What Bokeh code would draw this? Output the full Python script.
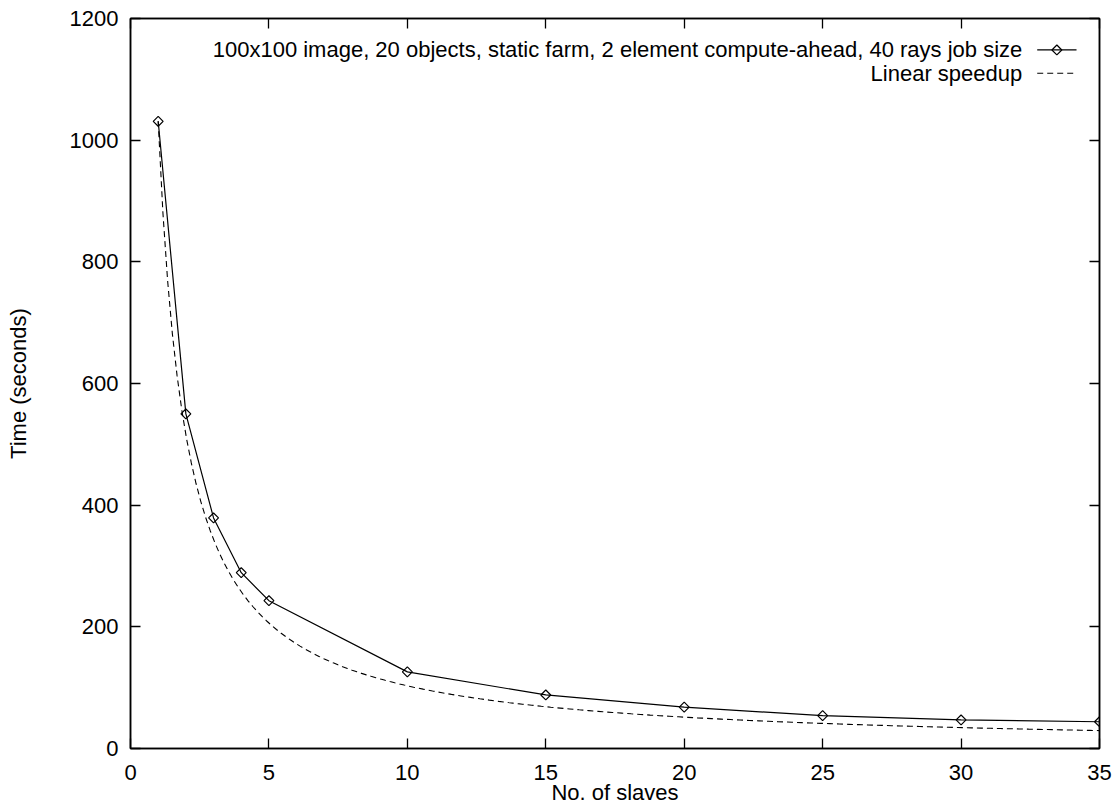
import numpy as np
from bokeh.plotting import figure
from bokeh.models import Range1d, FixedTicker, LinearAxis, Label
from bokeh.embed import file_html
from bokeh.resources import INLINE

# ---- data ----
slaves = [1, 2, 3, 4, 5, 10, 15, 20, 25, 30, 35]
times = [1031, 550, 379, 289, 243, 126, 88, 68, 54, 47, 44]
x_ticks = [0, 5, 10, 15, 20, 25, 30, 35]
y_ticks = [0, 200, 400, 600, 800, 1000, 1200]
series_label = "100x100 image, 20 objects, static farm, 2 element compute-ahead, 40 rays job size"
linear_label = "Linear speedup"
x_title = "No. of slaves"
y_title = "Time (seconds)"

# linear speedup curve derived from single-slave time (T1 / n)
lin_x = np.linspace(1, 35, 200)
lin_y = times[0] / lin_x

FONT = "Liberation Sans"
FS = "22px"

p = figure(width=1116, height=803, frame_width=969, frame_height=730,
           min_border_left=130, min_border_top=18, min_border_right=17,
           min_border_bottom=55,
           x_range=Range1d(0, 35), y_range=Range1d(0, 1200),
           output_backend="svg", toolbar_location=None)
p.background_fill_color = "white"
p.border_fill_color = "white"
p.outline_line_color = "black"
p.outline_line_width = 1.5
p.xgrid.visible = False
p.ygrid.visible = False

def style_axis(ax, ticks, show_labels, standoff):
    ax.ticker = FixedTicker(ticks=ticks)
    ax.axis_line_color = "black"
    ax.axis_line_width = 1.5
    ax.major_tick_in = 10
    ax.major_tick_out = 0
    ax.major_tick_line_color = "black"
    ax.major_tick_line_width = 1.3
    ax.minor_tick_line_color = None
    ax.major_label_text_font = FONT
    ax.major_label_text_font_size = FS
    ax.major_label_text_color = "black" if show_labels else None
    ax.major_label_standoff = standoff

def style_title(ax, text, standoff):
    ax.axis_label = text
    ax.axis_label_text_font = FONT
    ax.axis_label_text_font_size = FS
    ax.axis_label_text_font_style = "normal"
    ax.axis_label_text_color = "black"
    ax.axis_label_standoff = standoff

style_axis(p.xaxis[0], x_ticks, True, 16)
style_axis(p.yaxis[0], y_ticks, True, 12)
style_title(p.xaxis[0], x_title, -3)
style_title(p.yaxis[0], y_title, 36)

ax_r = LinearAxis()
style_axis(ax_r, y_ticks, False, 0)
ax_r.major_label_text_font_size = "1px"
p.add_layout(ax_r, "right")
ax_t = LinearAxis()
style_axis(ax_t, x_ticks, False, 0)
ax_t.major_label_text_font_size = "1px"
p.add_layout(ax_t, "above")

# data
p.line(lin_x, lin_y, line_color="black", line_width=1.1, line_dash="6 4")
p.line(slaves, times, line_color="black", line_width=1.2)
p.scatter(slaves, times, marker="square", angle=np.pi / 4, size=7,
          fill_color=None, line_color="black", line_width=1.2)

# legend (text left, sample right, gnuplot-style)
p.add_layout(Label(x=32.21, y=1148.3, text=series_label, text_align="right",
                   text_baseline="middle", text_font=FONT, text_font_size=FS,
                   text_color="black"))
p.add_layout(Label(x=32.21, y=1110.0, text=linear_label, text_align="right",
                   text_baseline="middle", text_font=FONT, text_font_size=FS,
                   text_color="black"))
p.segment(x0=[32.75], y0=[1148.3], x1=[34.17], y1=[1148.3], line_color="black", line_width=1.2)
p.scatter([33.46], [1148.3], marker="square", angle=np.pi / 4, size=7,
          fill_color=None, line_color="black", line_width=1.2)
p.segment(x0=[32.75], y0=[1110.0], x1=[34.17], y1=[1110.0], line_color="black",
          line_width=1.1, line_dash="6 4")

open("out.html", "w").write(file_html(p, INLINE))
